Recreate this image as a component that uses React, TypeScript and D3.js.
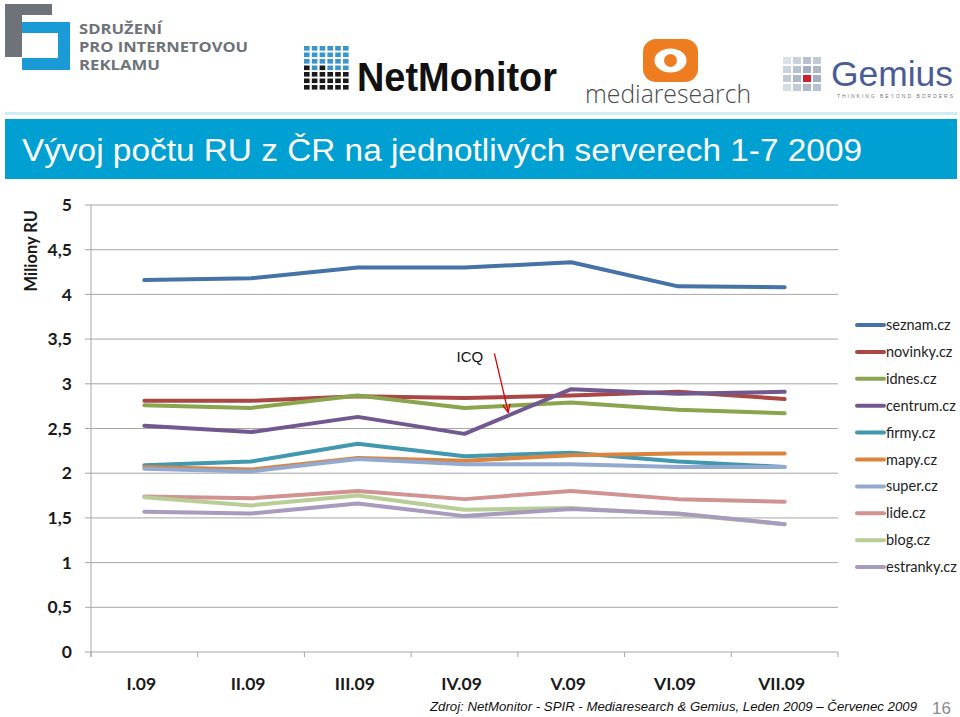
import React from "react";
import * as d3 from "d3";

const WIDTH = 960;
const HEIGHT = 717;

const months = ["I.09", "II.09", "III.09", "IV.09", "V.09", "VI.09", "VII.09"];
const yTicks = [0, 0.5, 1, 1.5, 2, 2.5, 3, 3.5, 4, 4.5, 5];

const seriesNames = [
  "seznam.cz",
  "novinky.cz",
  "idnes.cz",
  "centrum.cz",
  "firmy.cz",
  "mapy.cz",
  "super.cz",
  "lide.cz",
  "blog.cz",
  "estranky.cz",
];
const seriesColors = [
  "#4572A7",
  "#AA4643",
  "#89A54E",
  "#71588F",
  "#4198AF",
  "#DB843D",
  "#93A9CF",
  "#D19392",
  "#B9CD96",
  "#A99BBD",
];

const seznam = [4.16, 4.18, 4.3, 4.3, 4.36, 4.09, 4.08];
const novinky = [2.81, 2.81, 2.86, 2.84, 2.87, 2.91, 2.83];
const idnes = [2.76, 2.73, 2.87, 2.73, 2.79, 2.71, 2.67];
const centrum = [2.53, 2.46, 2.63, 2.44, 2.94, 2.89, 2.91];
const firmy = [2.09, 2.13, 2.33, 2.19, 2.23, 2.13, 2.07];
const mapy = [2.07, 2.04, 2.17, 2.14, 2.2, 2.22, 2.22];
const superCz = [2.05, 2.02, 2.16, 2.1, 2.1, 2.07, 2.07];
const lide = [1.74, 1.72, 1.8, 1.71, 1.8, 1.71, 1.68];
const blog = [1.73, 1.64, 1.75, 1.59, 1.61, 1.54, 1.43];
const estranky = [1.57, 1.55, 1.66, 1.52, 1.6, 1.55, 1.43];

const seriesValues = [seznam, novinky, idnes, centrum, firmy, mapy, superCz, lide, blog, estranky];

const title = "Vývoj počtu RU z ČR na jednotlivých serverech 1-7 2009";
const yLabel = "Miliony RU";
const source = "Zdroj: NetMonitor - SPIR - Mediaresearch & Gemius, Leden 2009 – Červenec 2009";
const pageNumber = "16";

// annotation, in (month index, value)
const icqText = { label: "ICQ", pos: 3.05, value: 3.3 };
const icqArrow = { from: [3.28, 3.34], to: [3.41, 2.68] };

const PLOT = { left: 91, right: 838, top: 205, bottom: 652 };
const LEGEND = { x: 857, y: 325, step: 26.9 };

const TICK_FONT = "Lato, 'Open Sans', sans-serif";

const Logos = () => {
  // NetMonitor grid: 1 = blue, 0 = black
  const nmGrid = [
    [1, 1, 1, 1, 1, 1],
    [1, 1, 1, 1, 1, 1],
    [1, 1, 1, 1, 1, 1],
    [0, 1, 0, 1, 1, 1],
    [0, 0, 0, 0, 0, 0],
    [0, 0, 0, 0, 0, 0],
    [0, 0, 0, 0, 0, 0],
  ];
  const gemiusCols = [
    [0.35, 0.5, 0.6, 0.4],
    [0.5, 0.7, 0.8, 0.6],
    [0.7, 0.9, 0, 0.8],
    [0.6, 0.8, 0.9, 0.7],
  ];
  return (
    <g>
      {/* SPIR */}
      <rect x={5} y={4} width={47} height={11} fill="#6E737A" />
      <rect x={5} y={4} width={17} height={53} fill="#6E737A" />
      <rect x={22} y={22} width={48} height={11} fill="#1A9BD7" />
      <rect x={58} y={22} width={12} height={48} fill="#1A9BD7" />
      <rect x={22} y={58} width={48} height={12} fill="#1A9BD7" />
      <g fontFamily="'Open Sans', Lato, sans-serif" fontWeight={700} fontSize={14.5} fill="#6E737A">
        <text x={79} y={34} textLength={83} lengthAdjust="spacingAndGlyphs">SDRUŽENÍ</text>
        <text x={79} y={52} textLength={169} lengthAdjust="spacingAndGlyphs">PRO INTERNETOVOU</text>
        <text x={79} y={70} textLength={81} lengthAdjust="spacingAndGlyphs">REKLAMU</text>
      </g>

      {/* NetMonitor */}
      {nmGrid.map((row, r) =>
        row.map((c, ci) => (
          <rect
            key={`nm${r}-${ci}`}
            x={304 + ci * 7.8}
            y={46 + r * 6.5}
            width={5.6}
            height={4.6}
            fill={c ? "#3A95CF" : "#1A1A1A"}
          />
        ))
      )}
      <text
        x={357}
        y={91}
        fontFamily="'Liberation Sans', Arial, sans-serif"
        fontWeight={700}
        fontSize={40}
        fill="#111"
        textLength={200}
        lengthAdjust="spacingAndGlyphs"
      >
        NetMonitor
      </text>

      {/* mediaresearch */}
      <rect x={643} y={39} width={55} height={43} rx={13} fill="#EE7D22" />
      <ellipse cx={670.5} cy={60.5} rx={16} ry={12} fill="#fff" />
      <circle cx={670.5} cy={60.5} r={6.5} fill="#EE7D22" />
      <text
        x={585}
        y={103}
        fontFamily="'Open Sans', 'DejaVu Sans', sans-serif"
        fontWeight={300}
        fontSize={26}
        fill="#4A4A4A"
        textLength={166}
        lengthAdjust="spacingAndGlyphs"
      >
        mediaresearch
      </text>

      {/* Gemius */}
      {gemiusCols.map((col, c) =>
        col.map((o, r) => (
          <rect
            key={`gm${c}-${r}`}
            x={783 + c * 10}
            y={57 + r * 9}
            width={8}
            height={7}
            fill={o === 0 ? "#D0202A" : "#9AA6BC"}
            opacity={o === 0 ? 1 : o}
          />
        ))
      )}
      <text
        x={831}
        y={86}
        fontFamily="'Liberation Sans', Arial, sans-serif"
        fontSize={35}
        fill="#4A5C97"
        textLength={122}
        lengthAdjust="spacingAndGlyphs"
      >
        Gemius
      </text>
      <text
        x={837}
        y={98}
        fontFamily="'Liberation Sans', Arial, sans-serif"
        fontSize={5}
        fill="#777"
        textLength={116}
        lengthAdjust="spacing"
      >
        THINKING BEYOND BORDERS
      </text>
    </g>
  );
};

export default function App() {
  const xBand = d3.scaleBand().domain(months).range([PLOT.left, PLOT.right]).padding(0);
  const xPos = d3
    .scaleLinear()
    .domain([0, months.length - 1])
    .range([
      (xBand(months[0]) ?? 0) + xBand.bandwidth() / 2,
      (xBand(months[months.length - 1]) ?? 0) + xBand.bandwidth() / 2,
    ]);
  const y = d3.scaleLinear().domain([0, 5]).range([PLOT.bottom, PLOT.top]);

  const line = d3
    .line<number>()
    .x((_, i) => xPos(i))
    .y((d) => y(d));

  const boundaries = months.map((m) => xBand(m) ?? 0).concat([PLOT.right]);

  return (
    <div style={{ position: "absolute", left: 0, top: 0 }}>
      <svg width={WIDTH} height={HEIGHT} style={{ display: "block", background: "#fff" }}>
        <defs>
          <marker id="arrow" viewBox="0 0 10 10" refX={9} refY={5} markerWidth={7} markerHeight={7} orient="auto">
            <path d="M0,1 L9,5 L0,9" fill="none" stroke="#E00000" strokeWidth={1.5} />
          </marker>
        </defs>

        <Logos />

        {/* title band */}
        <rect x={5} y={112} width={952} height={3} fill="#CDEEF7" />
        <rect x={5} y={119} width={952} height={60} fill="#00A0D3" />
        <text
          x={22}
          y={161}
          fontFamily="'Liberation Sans', Arial, sans-serif"
          fontSize={31}
          fill="#fff"
          textLength={840}
          lengthAdjust="spacingAndGlyphs"
        >
          {title}
        </text>

        {/* gridlines and y axis */}
        {yTicks.map((t) => (
          <g key={t}>
            <line x1={PLOT.left - 6} x2={PLOT.right} y1={y(t)} y2={y(t)} stroke="#A6A6A6" strokeWidth={1} />
            <text
              x={72}
              y={y(t)}
              dy="0.35em"
              textAnchor="end"
              fontFamily={TICK_FONT}
              fontWeight={700}
              fontSize={17.5}
              fill="#1A1A1A"
            >
              {String(t).replace(".", ",")}
            </text>
          </g>
        ))}
        <line x1={PLOT.left} x2={PLOT.left} y1={PLOT.top} y2={PLOT.bottom + 5} stroke="#A6A6A6" strokeWidth={1} />
        <text
          transform={`translate(37,${y(4.5) + 1}) rotate(-90)`}
          textAnchor="middle"
          fontFamily={TICK_FONT}
          fontWeight={700}
          fontSize={16.5}
          fill="#1A1A1A"
        >
          {yLabel}
        </text>

        {/* x axis */}
        {boundaries.map((b, i) => (
          <line key={i} x1={b} x2={b} y1={PLOT.bottom} y2={PLOT.bottom + 5} stroke="#A6A6A6" strokeWidth={1} />
        ))}
        {months.map((m, i) => (
          <text
            key={m}
            x={xPos(i) - 3}
            y={690}
            textAnchor="middle"
            fontFamily={TICK_FONT}
            fontWeight={700}
            fontSize={17.5}
            fill="#1A1A1A"
          >
            {m}
          </text>
        ))}

        {/* series */}
        {seriesValues.map((vals, i) => (
          <path
            key={seriesNames[i]}
            d={line(vals) || ""}
            fill="none"
            stroke={seriesColors[i]}
            strokeWidth={4}
            strokeLinejoin="round"
            strokeLinecap="round"
          />
        ))}

        {/* ICQ annotation */}
        <text
          x={xPos(icqText.pos)}
          y={y(icqText.value)}
          dy="0.35em"
          textAnchor="middle"
          fontFamily="'Liberation Sans', Arial, sans-serif"
          fontSize={15}
          fill="#111"
        >
          {icqText.label}
        </text>
        <line
          x1={xPos(icqArrow.from[0])}
          y1={y(icqArrow.from[1])}
          x2={xPos(icqArrow.to[0])}
          y2={y(icqArrow.to[1])}
          stroke="#E00000"
          strokeWidth={1.3}
          markerEnd="url(#arrow)"
        />

        {/* legend */}
        {seriesNames.map((name, i) => (
          <g key={name} transform={`translate(${LEGEND.x},${LEGEND.y + i * LEGEND.step})`}>
            <line x1={0} x2={27} y1={0} y2={0} stroke={seriesColors[i]} strokeWidth={4} strokeLinecap="round" />
            <text x={29} y={0} dy="0.35em" fontFamily={TICK_FONT} fontSize={14.5} fill="#222">
              {name}
            </text>
          </g>
        ))}

        {/* footer */}
        <text
          x={430}
          y={711}
          fontFamily="'Liberation Sans', Arial, sans-serif"
          fontStyle="italic"
          fontSize={13.5}
          fill="#111"
          textLength={487}
          lengthAdjust="spacingAndGlyphs"
        >
          {source}
        </text>
        <text x={932} y={714} fontFamily="'Liberation Sans', Arial, sans-serif" fontSize={17} fill="#8A8A8A">
          {pageNumber}
        </text>
      </svg>
    </div>
  );
}
